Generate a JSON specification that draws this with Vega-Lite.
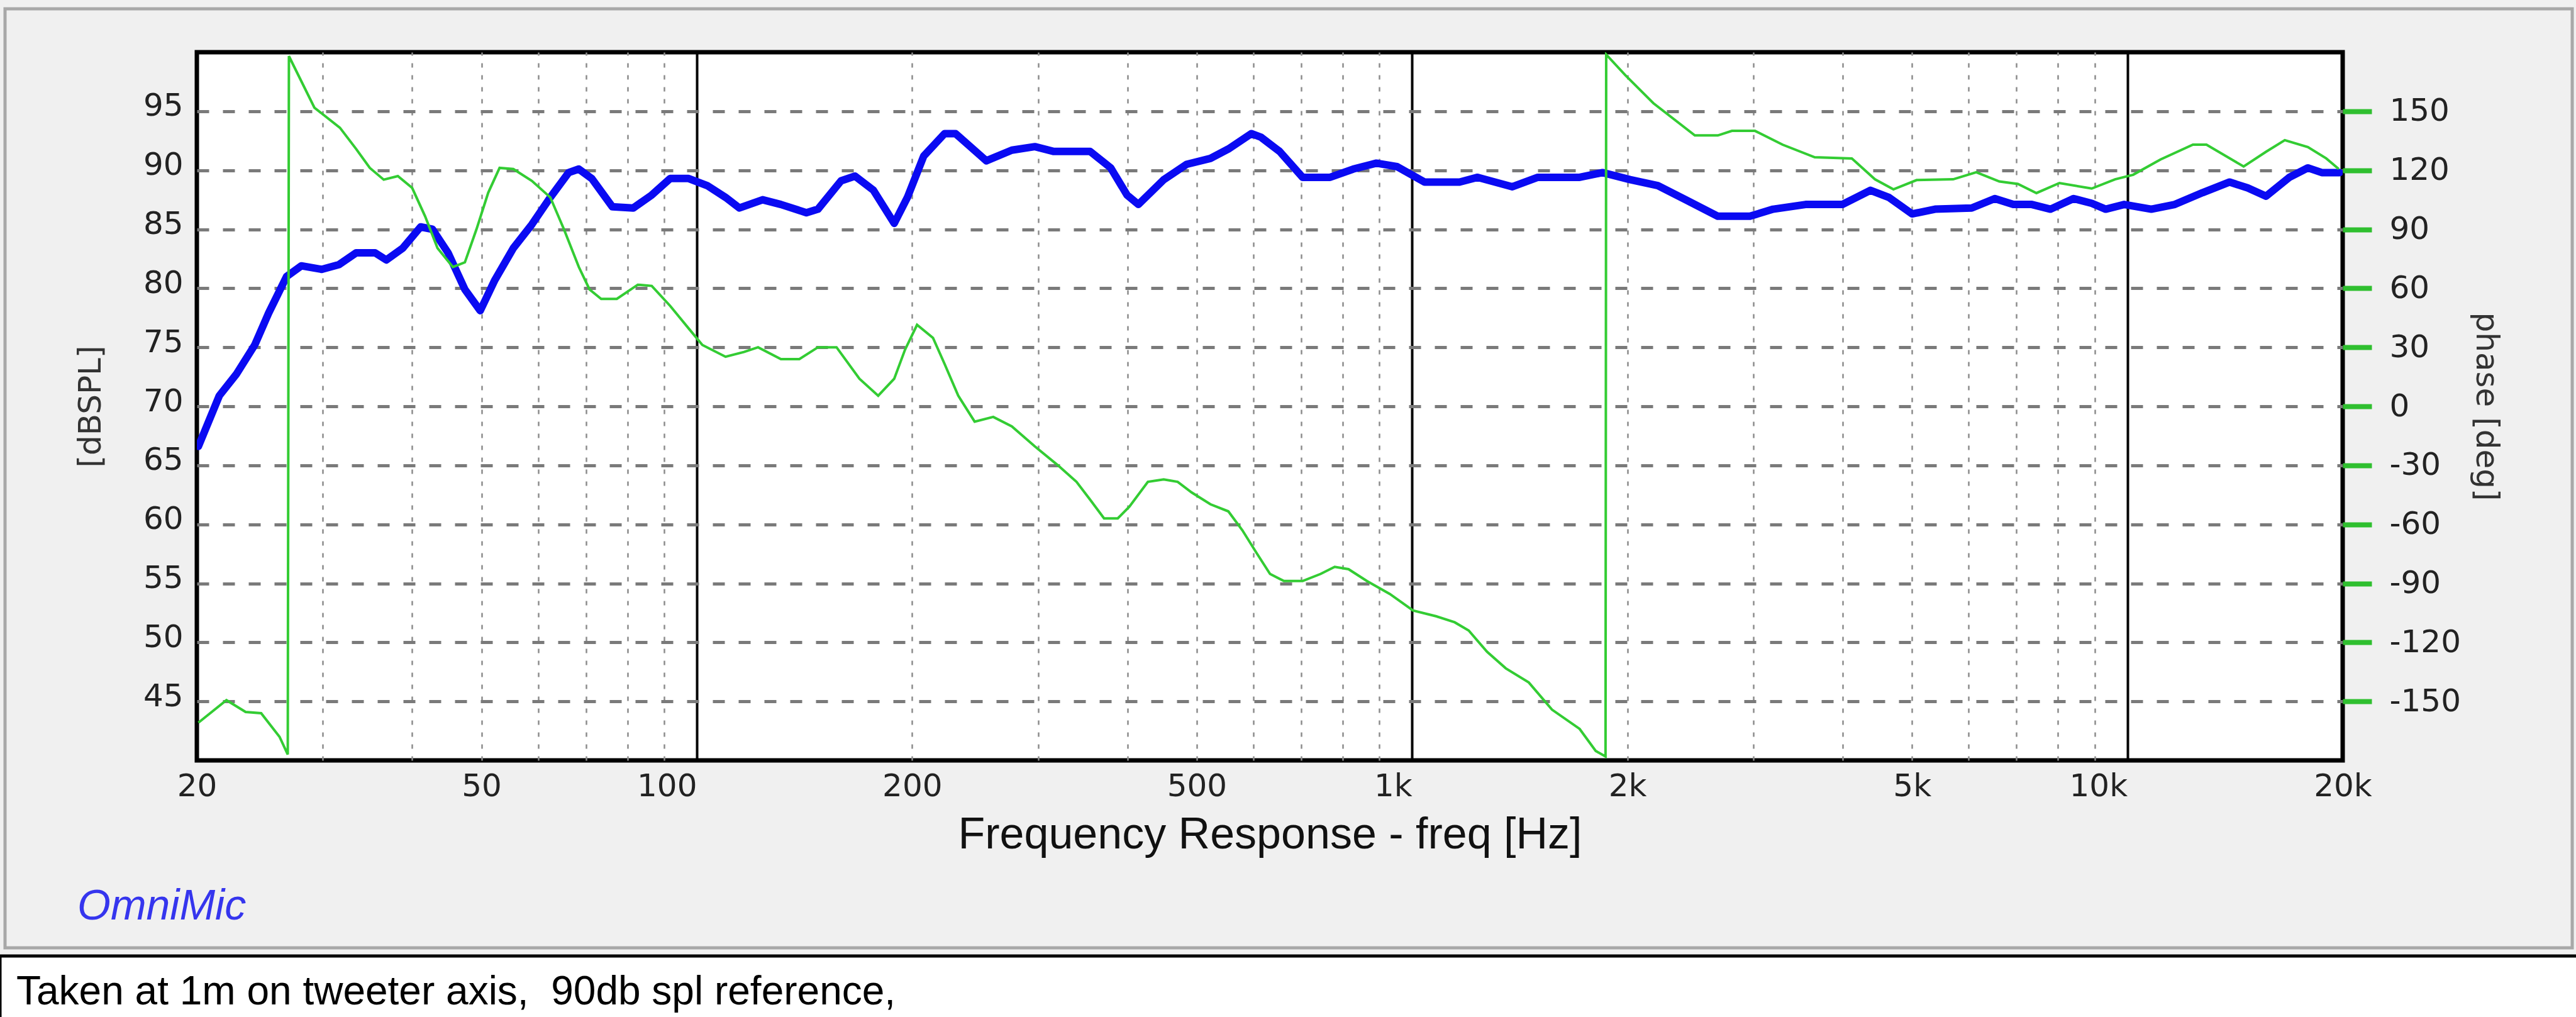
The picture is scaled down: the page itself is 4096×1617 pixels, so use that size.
{
  "$schema": "https://vega.github.io/schema/vega-lite/v6.json",
  "width": 3412,
  "height": 1126,
  "autosize": {"type": "none"},
  "padding": {"left": 313, "top": 83, "right": 371, "bottom": 408},
  "background": "#f0f0f0",
  "config": {
    "view": {"fill": "white", "stroke": "black", "strokeWidth": 7},
    "axis": {"labelFont": "DejaVu Sans", "titleFont": "DejaVu Sans", "labelColor": "#222222", "titleColor": "#333333", "titleFontWeight": "normal", "labelFlush": false, "labelOverlap": false, "labelBound": false},
    "legend": {"strokeWidth": 5}
  },
  "title": {
    "text": "OmniMic",
    "orient": "bottom",
    "anchor": "start",
    "frame": "group",
    "dx": -190,
    "offset": 0,
    "dy": -232,
    "font": "Liberation Sans",
    "fontSize": 68,
    "fontStyle": "italic",
    "fontWeight": "normal",
    "color": "#3535ee"
  },
  "datasets": {
    "spl": [
      {"f": 20.1, "spl": 66.6}, {"f": 21.5, "spl": 70.9}, {"f": 22.7, "spl": 72.7}, {"f": 24.1, "spl": 75.2},
      {"f": 25.2, "spl": 77.9}, {"f": 26.7, "spl": 81.0}, {"f": 28.0, "spl": 81.9}, {"f": 29.9, "spl": 81.6},
      {"f": 31.6, "spl": 82.0}, {"f": 33.4, "spl": 83.0}, {"f": 35.5, "spl": 83.0}, {"f": 36.8, "spl": 82.4},
      {"f": 38.8, "spl": 83.4}, {"f": 41.1, "spl": 85.2}, {"f": 42.7, "spl": 85.0}, {"f": 44.9, "spl": 83.0},
      {"f": 47.4, "spl": 79.9}, {"f": 49.8, "spl": 78.1}, {"f": 52.2, "spl": 80.7}, {"f": 55.4, "spl": 83.4},
      {"f": 58.8, "spl": 85.4}, {"f": 62.4, "spl": 87.7}, {"f": 66.2, "spl": 89.8}, {"f": 68.4, "spl": 90.1},
      {"f": 71.3, "spl": 89.3}, {"f": 76.2, "spl": 86.9}, {"f": 81.5, "spl": 86.8}, {"f": 86.5, "spl": 87.9},
      {"f": 91.8, "spl": 89.3}, {"f": 97.4, "spl": 89.3}, {"f": 103.4, "spl": 88.7}, {"f": 109.7, "spl": 87.7},
      {"f": 114.7, "spl": 86.8}, {"f": 123.6, "spl": 87.5}, {"f": 131.1, "spl": 87.1}, {"f": 142.3, "spl": 86.4},
      {"f": 147.7, "spl": 86.7}, {"f": 159.1, "spl": 89.1}, {"f": 166.4, "spl": 89.5}, {"f": 176.6, "spl": 88.3},
      {"f": 188.8, "spl": 85.5}, {"f": 197, "spl": 87.7}, {"f": 207.6, "spl": 91.2}, {"f": 222, "spl": 93.1},
      {"f": 230, "spl": 93.1}, {"f": 254, "spl": 90.8}, {"f": 275.7, "spl": 91.7}, {"f": 296.9, "spl": 92.0},
      {"f": 315, "spl": 91.6}, {"f": 354.6, "spl": 91.6}, {"f": 379, "spl": 90.2}, {"f": 399.5, "spl": 87.9},
      {"f": 414.4, "spl": 87.1}, {"f": 449.5, "spl": 89.2}, {"f": 484, "spl": 90.5}, {"f": 522.5, "spl": 91.0},
      {"f": 553.5, "spl": 91.8}, {"f": 596, "spl": 93.1}, {"f": 614.7, "spl": 92.8}, {"f": 652.7, "spl": 91.6},
      {"f": 703, "spl": 89.4}, {"f": 768, "spl": 89.4}, {"f": 827.5, "spl": 90.1}, {"f": 891.5, "spl": 90.6},
      {"f": 953, "spl": 90.3}, {"f": 1041, "spl": 89.0}, {"f": 1165, "spl": 89.0}, {"f": 1235, "spl": 89.4},
      {"f": 1381, "spl": 88.6}, {"f": 1499, "spl": 89.4}, {"f": 1715, "spl": 89.4}, {"f": 1846, "spl": 89.8},
      {"f": 2018, "spl": 89.2}, {"f": 2206, "spl": 88.7}, {"f": 2413, "spl": 87.5}, {"f": 2676, "spl": 86.1},
      {"f": 2967, "spl": 86.1}, {"f": 3197, "spl": 86.7}, {"f": 3549, "spl": 87.1}, {"f": 3995, "spl": 87.1},
      {"f": 4373, "spl": 88.3}, {"f": 4641, "spl": 87.7}, {"f": 5001, "spl": 86.3}, {"f": 5385, "spl": 86.7},
      {"f": 6058, "spl": 86.8}, {"f": 6526, "spl": 87.6}, {"f": 6926, "spl": 87.1}, {"f": 7353, "spl": 87.1},
      {"f": 7807, "spl": 86.7}, {"f": 8409, "spl": 87.6}, {"f": 8915, "spl": 87.2}, {"f": 9326, "spl": 86.7},
      {"f": 9900, "spl": 87.1}, {"f": 10800, "spl": 86.7}, {"f": 11650, "spl": 87.1}, {"f": 12740, "spl": 88.1},
      {"f": 13900, "spl": 89.0}, {"f": 14730, "spl": 88.5}, {"f": 15630, "spl": 87.8}, {"f": 16850, "spl": 89.4},
      {"f": 17880, "spl": 90.2}, {"f": 18700, "spl": 89.8}, {"f": 19800, "spl": 89.8}
    ],
    "phase": [
      {"f": 20.1, "deg": -160.8}, {"f": 22.0, "deg": -149.4}, {"f": 23.4, "deg": -155.4}, {"f": 24.6, "deg": -156},
      {"f": 26.1, "deg": -168}, {"f": 26.8, "deg": -177}, {"f": 26.9, "deg": 178}, {"f": 29.2, "deg": 151.8},
      {"f": 31.7, "deg": 141.6}, {"f": 33.4, "deg": 130.8}, {"f": 34.9, "deg": 121.2}, {"f": 36.5, "deg": 115.2},
      {"f": 38.2, "deg": 117}, {"f": 40.0, "deg": 111}, {"f": 41.7, "deg": 96.6}, {"f": 43.4, "deg": 80.4},
      {"f": 45.6, "deg": 70.8}, {"f": 47.4, "deg": 73.2}, {"f": 49.2, "deg": 90}, {"f": 51.1, "deg": 108.6},
      {"f": 53.0, "deg": 121.2}, {"f": 55.4, "deg": 120.6}, {"f": 58.8, "deg": 114.6}, {"f": 62.4, "deg": 106.2},
      {"f": 65.2, "deg": 90}, {"f": 68.4, "deg": 70.8}, {"f": 70.8, "deg": 59.4}, {"f": 73.5, "deg": 54.6},
      {"f": 77.3, "deg": 54.6}, {"f": 82.7, "deg": 61.8}, {"f": 86.5, "deg": 61.2}, {"f": 91.8, "deg": 51},
      {"f": 97.4, "deg": 39.6}, {"f": 101.8, "deg": 31.2}, {"f": 109.7, "deg": 25.2}, {"f": 116.4, "deg": 27.6},
      {"f": 121.8, "deg": 30}, {"f": 131.1, "deg": 24}, {"f": 139.1, "deg": 24}, {"f": 147.7, "deg": 30},
      {"f": 156.8, "deg": 30}, {"f": 168.8, "deg": 14}, {"f": 179.3, "deg": 5.4}, {"f": 188.8, "deg": 14},
      {"f": 195.5, "deg": 28.8}, {"f": 203.2, "deg": 41.4}, {"f": 213.9, "deg": 34.8}, {"f": 222, "deg": 21.6},
      {"f": 232, "deg": 5.4}, {"f": 244.6, "deg": -7.8}, {"f": 259.7, "deg": -5.4}, {"f": 275.7, "deg": -10.2},
      {"f": 296.9, "deg": -20.4}, {"f": 319.8, "deg": -30}, {"f": 339.5, "deg": -38.4}, {"f": 354.6, "deg": -47.4},
      {"f": 371, "deg": -57}, {"f": 387.7, "deg": -57}, {"f": 402.6, "deg": -51}, {"f": 427.2, "deg": -38.4},
      {"f": 449.5, "deg": -37.2}, {"f": 470.2, "deg": -38.4}, {"f": 491.9, "deg": -43.8}, {"f": 522.5, "deg": -49.8},
      {"f": 553.5, "deg": -53.4}, {"f": 579, "deg": -63}, {"f": 605.8, "deg": -74.4}, {"f": 633, "deg": -85.2},
      {"f": 662, "deg": -88.8}, {"f": 703, "deg": -88.8}, {"f": 745, "deg": -85.2}, {"f": 779.5, "deg": -81.6},
      {"f": 815, "deg": -82.8}, {"f": 864.5, "deg": -88.8}, {"f": 931, "deg": -95.4}, {"f": 1003, "deg": -103.8},
      {"f": 1082, "deg": -106.8}, {"f": 1147, "deg": -109.8}, {"f": 1200, "deg": -114}, {"f": 1273, "deg": -124.8},
      {"f": 1352, "deg": -133.2}, {"f": 1456, "deg": -140.4}, {"f": 1569, "deg": -154.2}, {"f": 1715, "deg": -164},
      {"f": 1806, "deg": -175.2}, {"f": 1864, "deg": -178}, {"f": 1868, "deg": 178.8}, {"f": 1988, "deg": 168.2},
      {"f": 2174, "deg": 154.1}, {"f": 2485, "deg": 137.7}, {"f": 2676, "deg": 137.7}, {"f": 2800, "deg": 140},
      {"f": 3016, "deg": 140}, {"f": 3296, "deg": 133.0}, {"f": 3655, "deg": 126.6}, {"f": 4119, "deg": 126},
      {"f": 4437, "deg": 115.4}, {"f": 4709, "deg": 110.3}, {"f": 5074, "deg": 115.0}, {"f": 5708, "deg": 115.4},
      {"f": 6149, "deg": 119.0}, {"f": 6623, "deg": 114.3}, {"f": 7031, "deg": 113.0}, {"f": 7463, "deg": 108.4},
      {"f": 8036, "deg": 113.5}, {"f": 8915, "deg": 110.7}, {"f": 9613, "deg": 115.4}, {"f": 10190, "deg": 117.7},
      {"f": 11130, "deg": 125.5}, {"f": 12350, "deg": 133}, {"f": 12900, "deg": 133}, {"f": 14540, "deg": 121.9},
      {"f": 15630, "deg": 129.4}, {"f": 16600, "deg": 135.3}, {"f": 17880, "deg": 131.8}, {"f": 18970, "deg": 126.0},
      {"f": 19750, "deg": 120.6}
    ]
  },
  "layer": [
    {
      "data": {"name": "spl"},
      "mark": {"type": "line", "strokeWidth": 12, "strokeJoin": "round", "strokeCap": "round", "clip": true},
      "encoding": {
        "x": {
          "field": "f", "type": "quantitative",
          "scale": {"type": "log", "domain": [20, 20000], "nice": false},
          "axis": {
            "values": [20, 50, 100, 200, 500, 1000, 2000, 5000, 10000, 20000],
            "labelExpr": "datum.value >= 1000 ? (datum.value / 1000) + 'k' : '' + datum.value",
            "grid": false, "ticks": false, "domain": false,
            "labelFontSize": 50, "labelPadding": 16,
            "labelAlign": {"condition": {"test": "datum.value == 100 || datum.value == 1000 || datum.value == 10000", "value": "right"}, "value": "center"},
            "title": "Frequency Response - freq [Hz]",
            "titleFont": "Liberation Sans", "titleFontSize": 70, "titleColor": "#111111", "titlePadding": 18
          }
        },
        "y": {
          "field": "spl", "type": "quantitative",
          "scale": {"domain": [40, 100], "nice": false, "zero": false},
          "axis": {
            "values": [45, 50, 55, 60, 65, 70, 75, 80, 85, 90, 95],
            "grid": true, "gridDash": [19, 22], "gridColor": "#7a7a7a", "gridWidth": 5,
            "ticks": false, "domain": false,
            "labelFontSize": 50, "labelPadding": 22, "labelOffset": -8,
            "title": "[dBSPL]", "titleFontSize": 50, "titlePadding": 58
          }
        },
        "color": {
          "datum": "SPL",
          "scale": {"domain": ["SPL", "Phase"], "range": ["#0a0af2", "#33cc33"]},
          "legend": {
            "orient": "none", "legendX": -313, "legendY": 1437,
            "direction": "horizontal",
            "fillColor": "white", "strokeColor": "black",
            "padding": 26,
            "title": "Taken at 1m on tweeter axis,\u00a0 90db spl reference,",
            "titleFont": "Liberation Sans", "titleFontSize": 64, "titleFontWeight": "normal", "titleColor": "#000000",
            "titleAnchor": "start", "titlePadding": 0, "titleLimit": 0,
            "symbolSize": 0, "symbolOpacity": 0, "symbolStrokeWidth": 0,
            "labelExpr": "''", "labelFontSize": 1,
            "columnPadding": 4200
          }
        },
        "opacity": {
          "datum": "frame-a",
          "scale": {"domain": ["frame-a", "frame-b"], "range": [1, 1]},
          "legend": {
            "orient": "none", "legendX": -305, "legendY": -69,
            "direction": "horizontal",
            "fillColor": "transparent", "strokeColor": "#a8a8a8",
            "padding": 746,
            "title": "",
            "symbolSize": 0, "symbolOpacity": 0, "symbolStrokeWidth": 0,
            "labelExpr": "''", "labelFontSize": 1,
            "columnPadding": 2580
          }
        }
      }
    },
    {
      "data": {"name": "phase"},
      "mark": {"type": "line", "strokeWidth": 4, "clip": true},
      "encoding": {
        "x": {
          "field": "f", "type": "quantitative",
          "scale": {"type": "log", "domain": [20, 20000], "nice": false},
          "axis": {
            "orient": "top",
            "values": [30, 40, 50, 60, 70, 80, 90, 100, 200, 300, 400, 500, 600, 700, 800, 900, 1000, 2000, 3000, 4000, 5000, 6000, 7000, 8000, 9000, 10000],
            "grid": true,
            "gridColor": {"condition": {"test": "datum.value == 100 || datum.value == 1000 || datum.value == 10000", "value": "#000000"}, "value": "#8c8c8c"},
            "gridDash": {"condition": {"test": "datum.value == 100 || datum.value == 1000 || datum.value == 10000", "value": []}, "value": [7, 12]},
            "gridWidth": {"condition": {"test": "datum.value == 100 || datum.value == 1000 || datum.value == 10000", "value": 4}, "value": 2.5},
            "labels": false, "ticks": false, "domain": false, "title": null
          }
        },
        "y": {
          "field": "deg", "type": "quantitative",
          "scale": {"domain": [-180, 180], "nice": false, "zero": false},
          "axis": {
            "orient": "right",
            "values": [-150, -120, -90, -60, -30, 0, 30, 60, 90, 120, 150],
            "grid": false, "domain": false,
            "ticks": true, "tickColor": "#2fbf2f", "tickWidth": 8, "tickSize": 46,
            "labelPadding": 28, "labelFontSize": 50,
            "labelExpr": "datum.value < 0 ? '-' + abs(datum.value) : '' + datum.value",
            "title": "phase [deg]", "titleFontSize": 50, "titlePadding": 15
          }
        },
        "color": {"datum": "Phase"},
        "opacity": {"datum": "frame-b"}
      }
    }
  ],
  "resolve": {"scale": {"y": "independent"}, "axis": {"x": "independent"}}
}
